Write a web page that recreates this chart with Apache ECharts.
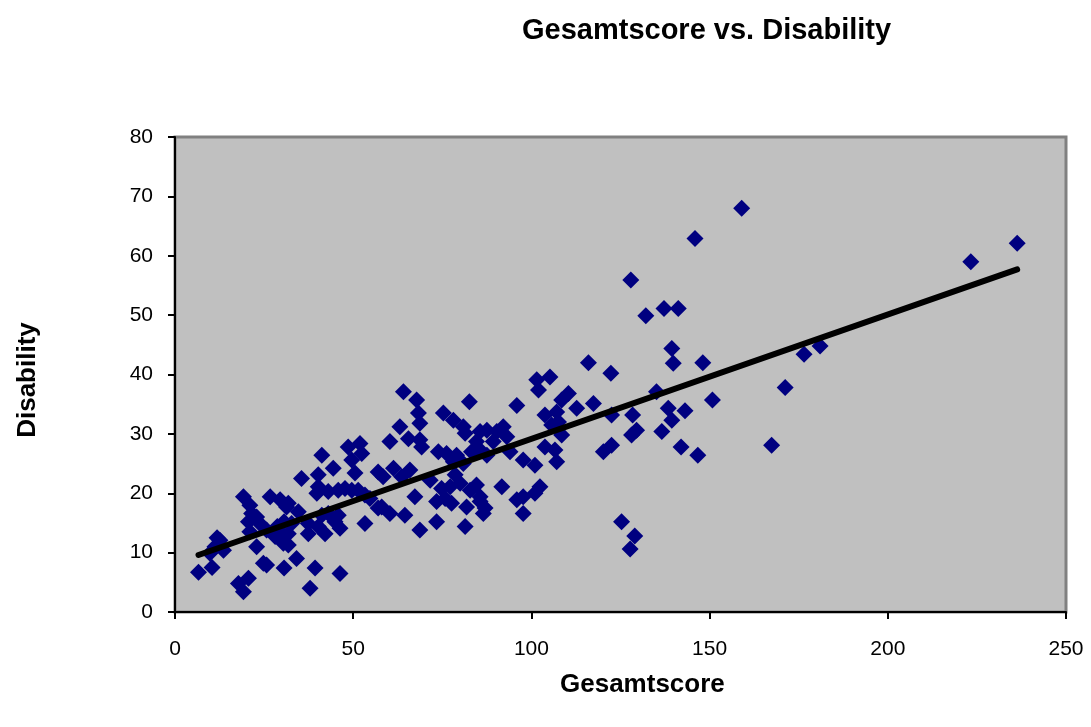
<!DOCTYPE html>
<html>
<head>
<meta charset="utf-8">
<script src="https://cdn.jsdelivr.net/npm/echarts@6/dist/echarts.min.js"></script>
<style>
html,body{margin:0;padding:0;background:#fff;}
#chart{width:1091px;height:727px;}
</style>
</head>
<body>
<div id="chart"></div>
<script>
const titleText = 'Gesamtscore vs. Disability';
const xName = 'Gesamtscore';
const yName = 'Disability';

const gesamtscore = [
6.6,10.4,9.8,11.2,12.6,13.6,11.8,17.8,20.6,19.2,
19.2,21.0,21.5,22.9,20.6,23.8,21.0,22.9,24.8,25.7,
26.7,29.5,31.3,25.7,28.1,30.4,30.6,31.8,34.6,32.7,
31.8,31.8,34.1,29.7,30.6,28.7,35.5,37.4,41.2,43.0,
45.8,40.2,37.4,42.1,44.9,46.3,53.3,39.3,46.3,37.9,
40.2,39.8,43.0,45.8,47.7,49.6,51.4,53.3,54.7,57.0,
51.9,48.6,52.4,49.6,41.2,44.4,40.2,50.5,57.0,64.1,
67.8,68.3,68.7,63.1,65.5,68.7,69.2,60.3,61.3,65.9,
58.4,63.6,67.3,60.3,64.5,58.0,68.7,82.6,75.3,78.1,
80.9,81.4,85.6,84.6,73.9,76.2,79.0,83.2,85.6,78.1,
80.9,78.6,80.0,84.6,82.8,71.6,74.8,77.2,73.4,77.6,
81.8,85.6,86.5,73.4,81.4,87.0,85.6,75.8,87.5,90.3,
92.1,89.3,87.5,94.0,91.7,95.9,101.5,105.2,102.0,110.4,
108.5,112.7,103.8,107.1,107.6,105.7,108.5,103.8,106.6,107.1,
97.7,101.0,102.4,101.0,97.7,95.9,97.7,93.1,116.0,122.3,
117.4,122.5,128.4,120.2,122.5,125.3,129.0,127.7,127.9,132.1,
137.2,141.2,139.4,139.8,148.1,135.1,150.8,138.4,143.1,139.4,
128.1,129.5,136.6,142.0,146.7,145.9,159.0,167.4,171.2,176.5,
181.0,223.3,236.3
];
const disability = [
6.7,7.5,9.9,11.0,12.1,10.4,12.5,4.8,5.7,3.4,
19.4,18.0,16.6,16.0,15.2,14.9,13.5,11.0,8.2,7.9,
19.4,18.9,17.7,13.8,12.7,11.6,7.4,18.3,16.9,14.9,
13.2,11.3,9.0,13.2,15.2,14.4,22.5,14.9,16.3,16.6,
16.3,14.4,13.2,13.2,15.2,14.1,14.9,7.4,6.5,4.0,
21.1,20.0,20.3,20.5,20.8,20.5,20.5,19.7,19.1,17.5,
28.4,27.8,26.7,25.6,26.4,24.2,23.1,23.4,23.6,37.1,
35.7,33.5,31.8,31.2,29.2,29.0,27.8,28.7,24.2,23.9,
22.8,22.8,19.4,16.6,16.3,17.7,13.8,35.4,33.5,32.3,
31.2,30.1,30.4,28.7,27.0,26.7,26.4,27.0,27.3,25.3,
25.0,23.1,21.7,21.4,20.5,22.2,20.8,21.1,18.6,18.3,
17.7,18.6,16.6,15.2,14.4,17.5,19.4,19.1,30.6,30.4,
31.2,28.7,26.4,27.0,21.1,34.8,39.1,39.6,37.4,36.8,
35.7,34.3,33.2,33.7,32.0,31.5,29.8,27.8,27.3,25.3,
25.6,24.7,21.1,20.0,19.4,18.9,16.6,29.5,42.0,40.2,
35.1,33.2,33.2,27.0,28.1,15.2,12.8,10.6,55.9,49.9,
51.1,51.1,44.4,41.9,42.0,37.1,35.7,34.3,33.9,32.3,
29.8,30.6,30.4,27.8,26.4,62.9,68.0,28.1,37.8,43.4,
44.8,59.0,62.1
];
// trend line end points
const trendX = [6.6, 236.3];
const trendY = [9.6, 57.7];

const xTicks = { min: 0, max: 250, interval: 50 };
const yTicks = { min: 0, max: 80, interval: 10 };

const FONT = "'Liberation Sans', Arial, sans-serif";
const chart = echarts.init(document.getElementById('chart'), null, {renderer: 'canvas'});

const pts = gesamtscore.map((x, i) => [x, disability[i]]);
const trend = trendX.map((x, i) => [x, trendY[i]]);

chart.setOption({
  animation: false,
  backgroundColor: '#ffffff',
  title: {
    text: titleText,
    left: 517,
    top: 11,
    textStyle: { fontFamily: FONT, fontSize: 29, fontWeight: 'bold', color: '#000' }
  },
  grid: {
    left: 175, right: 25, top: 137, bottom: 115,
    show: true, backgroundColor: '#c0c0c0', borderColor: '#808080', borderWidth: 3
  },
  xAxis: {
    type: 'value', min: xTicks.min, max: xTicks.max, interval: xTicks.interval,
    axisLine: { show: true, onZero: false, lineStyle: { color: '#000', width: 2 } },
    axisTick: { show: true, inside: false, length: 7, lineStyle: { color: '#000', width: 2 } },
    splitLine: { show: false },
    axisLabel: { margin: 27, fontFamily: FONT, fontSize: 21, color: '#000' }
  },
  yAxis: {
    type: 'value', min: yTicks.min, max: yTicks.max, interval: yTicks.interval,
    axisLine: { show: true, onZero: false, lineStyle: { color: '#000', width: 2 } },
    axisTick: { show: true, inside: false, length: 7, lineStyle: { color: '#000', width: 2 } },
    splitLine: { show: false },
    axisLabel: { margin: 22, fontFamily: FONT, fontSize: 21, color: '#000' }
  },
  graphic: [
    { type: 'text', left: 560, top: 672,
      style: { text: xName, font: "bold 26px 'Liberation Sans', Arial, sans-serif", fill: '#000' } },
    { type: 'text', x: 28, y: 380, rotation: Math.PI / 2,
      style: { text: yName, font: "bold 26px 'Liberation Sans', Arial, sans-serif", fill: '#000',
               align: 'center', verticalAlign: 'middle' } }
  ],
  series: [
    { type: 'scatter', data: pts, symbol: 'diamond', symbolSize: 17,
      itemStyle: { color: '#000080', opacity: 1 }, z: 2 },
    { type: 'line', data: trend, symbol: 'none', z: 3,
      lineStyle: { color: '#000', width: 6, cap: 'round' } }
  ]
});
</script>
</body>
</html>
